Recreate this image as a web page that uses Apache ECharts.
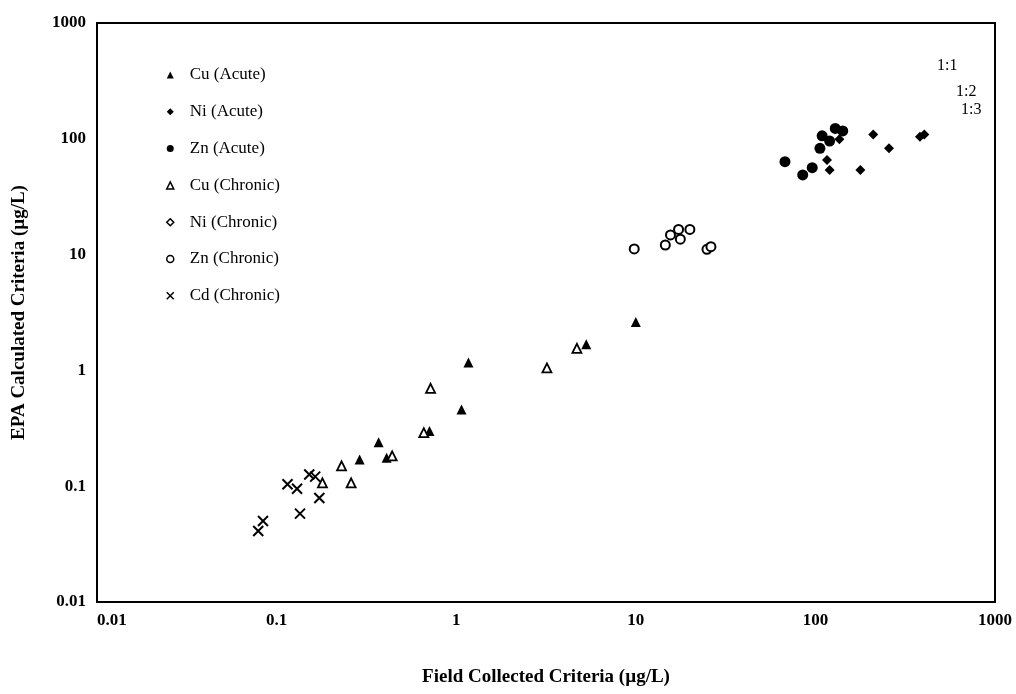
<!DOCTYPE html>
<html>
<head>
<meta charset="utf-8">
<title>EPA Calculated vs Field Collected Criteria</title>
<script src="https://cdn.jsdelivr.net/npm/echarts@6/dist/echarts.min.js"></script>
<style>
  html, body { margin: 0; padding: 0; background: #fff; }
  #chart { width: 1016px; height: 694px; }
</style>
</head>
<body>
<div id="chart"></div>
<script>
// values (µg/L)
const cuAcuteX = [1.17, 1.07, 0.71, 0.37, 0.29, 0.41, 5.3, 10.0];
const cuAcuteY = [1.17, 0.46, 0.30, 0.24, 0.17, 0.176, 1.68, 2.62];

const niAcuteX = [136, 116, 120, 178, 210, 257, 382, 404];
const niAcuteY = [99, 65.6, 53.8, 53.8, 109, 82.8, 104, 109];

const znAcuteX = [67.7, 85, 96, 106, 109, 120, 129, 142];
const znAcuteY = [63.4, 48.7, 56.3, 82.8, 106, 95.7, 123, 117];

const cuChronicX = [0.72, 0.66, 0.44, 0.23, 0.18, 0.26, 3.2, 4.7];
const cuChronicY = [0.70, 0.29, 0.183, 0.150, 0.107, 0.107, 1.05, 1.55];

const niChronicX = [];
const niChronicY = [];

const znChronicX = [9.8, 14.6, 15.6, 17.3, 17.7, 20.0, 24.9, 26.2];
const znChronicY = [11.2, 12.1, 14.8, 16.5, 13.6, 16.5, 11.1, 11.7];

const cdChronicX = [0.079, 0.084, 0.115, 0.130, 0.135, 0.152, 0.164, 0.173];
const cdChronicY = [0.041, 0.050, 0.104, 0.095, 0.058, 0.126, 0.121, 0.079];

const tickLabels = ['0.01', '0.1', '1', '10', '100', '1000'];
const ratioLabels = ['1:1', '1:2', '1:3'];

const SERIF = '"Liberation Serif", "Times New Roman", serif';

function pairs(xs, ys) {
  return xs.map((x, i) => [x, ys[i]]);
}

function tickFormatter(v) {
  const i = Math.round(Math.log10(v)) + 2;
  return tickLabels[i] || '';
}

const crossPath = 'path://M0,0L10,10M10,0L0,10';

const myChart = echarts.init(document.getElementById('chart'));

const option = {
  animation: false,
  grid: {
    left: 97,
    right: 21,
    top: 23,
    bottom: 92,
    show: true,
    borderColor: '#000',
    borderWidth: 2
  },
  legend: {
    orient: 'vertical',
    left: 161,
    top: 61,
    itemWidth: 7,
    itemHeight: 7,
    itemGap: 18.8,
    selectedMode: false,
    textStyle: {
      fontFamily: SERIF,
      fontSize: 17,
      lineHeight: 18,
      color: '#000',
      padding: [0, 0, 0, 11]
    },
    data: [
      { name: 'Cu (Acute)' },
      { name: 'Ni (Acute)' },
      { name: 'Zn (Acute)' },
      { name: 'Cu (Chronic)', itemStyle: { borderWidth: 1.5 } },
      { name: 'Ni (Chronic)', itemStyle: { borderWidth: 1.5 } },
      { name: 'Zn (Chronic)', itemStyle: { borderWidth: 1.5 } },
      { name: 'Cd (Chronic)', itemStyle: { borderWidth: 1.5 } }
    ]
  },
  xAxis: {
    type: 'log',
    logBase: 10,
    min: 0.01,
    max: 1000,
    name: 'Field Collected Criteria (µg/L)',
    nameLocation: 'middle',
    nameGap: 66,
    nameTextStyle: { fontFamily: SERIF, fontWeight: 'bold', fontSize: 19, color: '#000' },
    axisLine: { lineStyle: { color: '#000', width: 2 } },
    axisTick: { show: false },
    splitLine: { show: false },
    axisLabel: {
      formatter: tickFormatter,
      fontFamily: SERIF,
      fontWeight: 'bold',
      fontSize: 17,
      color: '#000',
      margin: 10,
      alignMinLabel: 'left'
    }
  },
  yAxis: {
    type: 'log',
    logBase: 10,
    min: 0.01,
    max: 1000,
    name: 'EPA Calculated Criteria (µg/L)',
    nameLocation: 'middle',
    nameGap: 68,
    nameTextStyle: { fontFamily: SERIF, fontWeight: 'bold', fontSize: 19, color: '#000' },
    axisLine: { lineStyle: { color: '#000', width: 2 } },
    axisTick: { show: false },
    splitLine: { show: false },
    axisLabel: {
      formatter: tickFormatter,
      fontFamily: SERIF,
      fontWeight: 'bold',
      fontSize: 17,
      color: '#000',
      margin: 11
    }
  },
  graphic: [
    { type: 'text', left: 937, top: 58, style: { text: ratioLabels[0], font: '16px ' + SERIF, fill: '#000' } },
    { type: 'text', left: 956, top: 84, style: { text: ratioLabels[1], font: '16px ' + SERIF, fill: '#000' } },
    { type: 'text', left: 961, top: 102, style: { text: ratioLabels[2], font: '16px ' + SERIF, fill: '#000' } }
  ],
  series: [
    {
      name: 'Cu (Acute)', type: 'scatter', symbol: 'triangle', symbolSize: 10,
      itemStyle: { color: '#000', opacity: 1 },
      data: pairs(cuAcuteX, cuAcuteY)
    },
    {
      name: 'Ni (Acute)', type: 'scatter', symbol: 'diamond', symbolSize: 10,
      itemStyle: { color: '#000', opacity: 1 },
      data: pairs(niAcuteX, niAcuteY)
    },
    {
      name: 'Zn (Acute)', type: 'scatter', symbol: 'circle', symbolSize: 11,
      itemStyle: { color: '#000', opacity: 1 },
      data: pairs(znAcuteX, znAcuteY)
    },
    {
      name: 'Cu (Chronic)', type: 'scatter', symbol: 'triangle', symbolSize: 9,
      itemStyle: { color: '#fff', borderColor: '#000', borderWidth: 1.8, opacity: 1 },
      data: pairs(cuChronicX, cuChronicY)
    },
    {
      name: 'Ni (Chronic)', type: 'scatter', symbol: 'diamond', symbolSize: 9,
      itemStyle: { color: '#fff', borderColor: '#000', borderWidth: 1.8, opacity: 1 },
      data: pairs(niChronicX, niChronicY)
    },
    {
      name: 'Zn (Chronic)', type: 'scatter', symbol: 'circle', symbolSize: 9,
      itemStyle: { color: '#fff', borderColor: '#000', borderWidth: 2, opacity: 1 },
      data: pairs(znChronicX, znChronicY)
    },
    {
      name: 'Cd (Chronic)', type: 'scatter', symbol: crossPath, symbolSize: 10,
      itemStyle: { color: 'rgba(0,0,0,0)', borderColor: '#000', borderWidth: 2, opacity: 1 },
      data: pairs(cdChronicX, cdChronicY)
    }
  ]
};

myChart.setOption(option);
</script>
</body>
</html>
